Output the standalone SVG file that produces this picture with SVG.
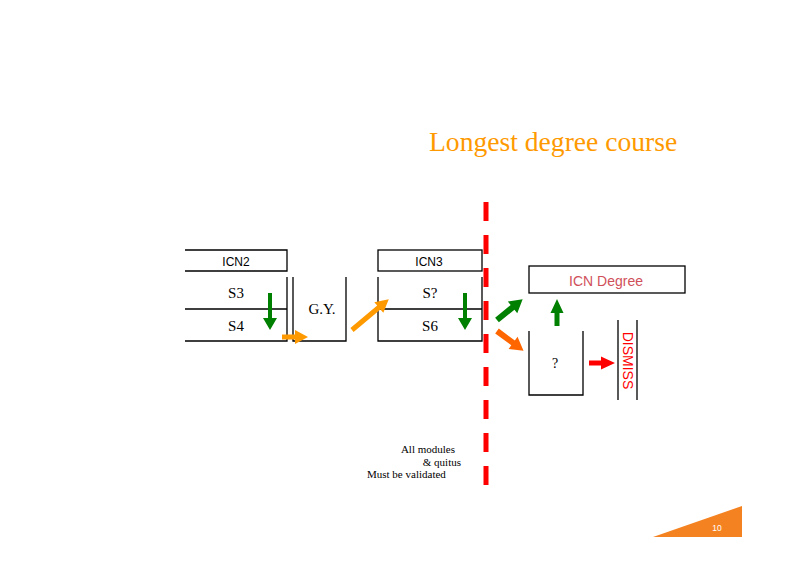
<svg xmlns="http://www.w3.org/2000/svg" width="800" height="566" viewBox="0 0 800 566">
<style>
.box{fill:none;stroke:#000;stroke-width:1.3}
.sans{font-family:"Liberation Sans",Arial,sans-serif}
.serif{font-family:"Liberation Serif","Times New Roman",serif}
.lbl{font-size:12px;fill:#000;text-anchor:middle}
.sem{font-size:15px;fill:#000;text-anchor:middle}
.note{font-size:11px;fill:#000}
.green{fill:#008000}
.orange{fill:#FF9900}
.orred{fill:#FF6600}
.red{fill:#FF0000}
</style>
<rect width="800" height="566" fill="#fff"/>
<text x="429" y="151" class="serif" font-size="27.6" fill="#FF9900">Longest degree course</text>

<g id="icn2">
<path class="box" d="M185,250 H287 V271 H185"/>
<text x="236" y="266" class="sans lbl">ICN2</text>
</g>
<g id="s3s4">
<path class="box" d="M287,277 V341 H185 M185,309 H287"/>
<text x="236" y="298" class="serif sem">S3</text>
<text x="236" y="331" class="serif sem">S4</text>
</g>
<g id="gy">
<path class="box" d="M293,277 V341 H346 V277"/>
<text x="322" y="314" class="serif sem">G.Y.</text>
</g>
<g id="icn3">
<rect class="box" x="378" y="250" width="104" height="21"/>
<text x="429" y="266" class="sans lbl">ICN3</text>
</g>
<g id="s5s6">
<path class="box" d="M378,277 V341 H482 V277 M378,309 H482"/>
<text x="430" y="298" class="serif sem">S?</text>
<text x="430" y="331" class="serif sem">S6</text>
</g>
<g id="icndegree">
<rect class="box" x="529" y="266" width="156" height="27"/>
<text x="606" y="286" class="sans" font-size="14" fill="#D0505A" text-anchor="middle">ICN Degree</text>
</g>
<g id="unknown">
<path class="box" d="M529,331 V395 H583 V331"/>
<text x="555" y="368" class="serif" font-size="14" text-anchor="middle">?</text>
</g>
<g id="dismiss">
<path class="box" d="M618,320 V400 M637,320 V400"/>
<text transform="translate(622.5,360.5) rotate(90)" class="sans" font-size="14" fill="#FF0000" text-anchor="middle">DISMISS</text>
</g>
<g id="note">
<text x="455" y="453" class="serif note" text-anchor="end">All modules</text>
<text x="461" y="466" class="serif note" text-anchor="end">&amp; quitus</text>
<text x="367" y="478" class="serif note">Must be validated</text>
</g>

<g id="connectors">
<line x1="486" y1="202" x2="486" y2="486" stroke="#FF0000" stroke-width="5" stroke-dasharray="19 14"/>
<path class="green" transform="translate(270,293) rotate(90)" d="M0,-2 H25 V-7 L37,0 L25,7 V2 H0Z"/>
<path class="green" transform="translate(465,293) rotate(90)" d="M0,-2 H25 V-7 L37,0 L25,7 V2 H0Z"/>
<path class="orange" transform="translate(282,337)" d="M0,-2.5 H13 V-7 L26,0 L13,7 V2.5 H0Z"/>
<path class="orange" transform="translate(352,330) rotate(-40)" d="M0,-2.5 H35 V-7 L48,0 L35,7 V2.5 H0Z"/>
<path class="green" transform="translate(497,320) rotate(-39)" d="M0,-3 H20 V-7.5 L33,0 L20,7.5 V3 H0Z"/>
<path class="orred" transform="translate(497,331) rotate(36.5)" d="M0,-3 H20 V-7.5 L33,0 L20,7.5 V3 H0Z"/>
<path class="green" transform="translate(557,326) rotate(-90)" d="M0,-2.5 H13 V-6.5 L27,0 L13,6.5 V2.5 H0Z"/>
<path class="red" transform="translate(589,363)" d="M0,-2.5 H12 V-6.5 L26,0 L12,6.5 V2.5 H0Z"/>
</g>

<g id="footer">
<polygon points="653,537 742,506 742,537" fill="#F58220"/>
<text x="717" y="531" class="sans" font-size="8.5" fill="#fff" text-anchor="middle">10</text>
</g>
</svg>
